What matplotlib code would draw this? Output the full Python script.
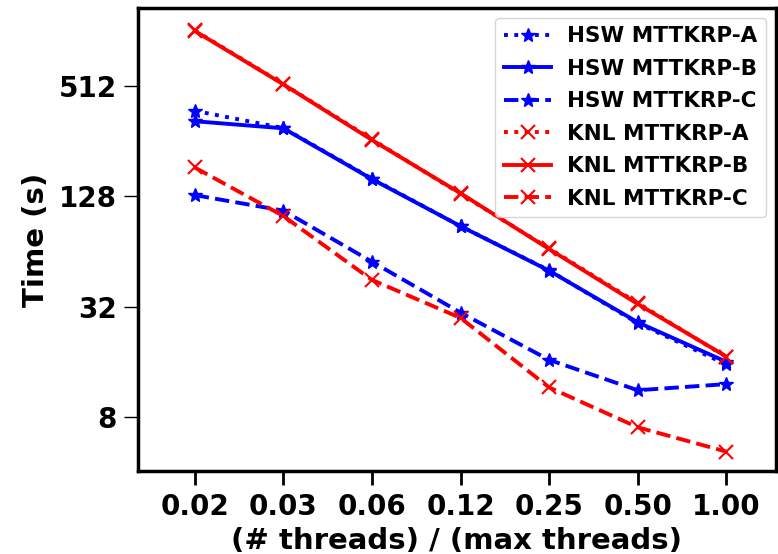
import matplotlib
matplotlib.use("Agg")
import matplotlib.pyplot as plt
import numpy as np

# thread fraction labels (categorical x)
thread_frac = ["0.02", "0.03", "0.06", "0.12", "0.25", "0.50", "1.00"]

hsw_a = [375, 302, 160, 88, 50.5, 26.0, 15.5]
hsw_b = [329, 301, 159, 88, 50.3, 26.3, 16.0]
hsw_c = [130, 107, 56.3, 29.7, 16.4, 11.2, 12.1]
knl_a = [1030, 525, 262, 132, 66.5, 33.5, 17.0]
knl_b = [1023, 523, 260, 133, 66.0, 33.1, 17.1]
knl_c = [184, 100, 44.8, 27.8, 11.6, 7.03, 5.18]

yticks = [8, 32, 128, 512]

plt.rcParams['font.family'] = ['DejaVu Sans']
plt.rcParams['font.weight'] = 'bold'

fig = plt.figure(figsize=(7.78, 5.54), dpi=100)
ax = fig.add_axes([0.1774, 0.1498, 0.820, 0.8357])

x = np.arange(len(thread_frac))
lw = 2.8
ax.plot(x, hsw_a, ':', color='blue', marker='*', ms=10, lw=lw, label='HSW MTTKRP-A')
ax.plot(x, hsw_b, '-', color='blue', marker='*', ms=10, lw=lw, label='HSW MTTKRP-B')
ax.plot(x, hsw_c, '--', color='blue', marker='*', ms=10, lw=lw, label='HSW MTTKRP-C')
ax.plot(x, knl_a, ':', color='red', marker='x', ms=10, mew=1.5, lw=lw, label='KNL MTTKRP-A')
ax.plot(x, knl_b, '-', color='red', marker='x', ms=10, mew=1.5, lw=lw, label='KNL MTTKRP-B')
ax.plot(x, knl_c, '--', color='red', marker='x', ms=10, mew=1.5, lw=lw, label='KNL MTTKRP-C')

ax.set_yscale('log', base=2)
ax.set_ylim(4.06, 1364)
ax.set_xlim(-0.64, 6.56)
ax.set_yticks(yticks)
ax.set_yticklabels([str(t) for t in yticks])
ax.minorticks_off()
ax.set_xticks(x)
ax.set_xticklabels(thread_frac)

ax.tick_params(axis='both', labelsize=20, length=10, pad=5.5)
ax.tick_params(axis='x', width=2)
ax.tick_params(axis='y', width=1)
for lab in ax.get_xticklabels() + ax.get_yticklabels():
    lab.set_fontweight('bold')
for s in ax.spines.values():
    s.set_linewidth(2.5)

ax.set_xlabel('(# threads) / (max threads)', fontsize=21, fontweight='bold', labelpad=4.5)
ax.set_ylabel('Time (s)', fontsize=21, fontweight='bold', labelpad=6)

leg = ax.legend(loc='upper right', prop={'size': 15.5, 'weight': 'bold'}, handlelength=2.2,
                labelspacing=0.58, borderaxespad=0.45, handletextpad=0.75)

fig.savefig('out.png', dpi=100)
